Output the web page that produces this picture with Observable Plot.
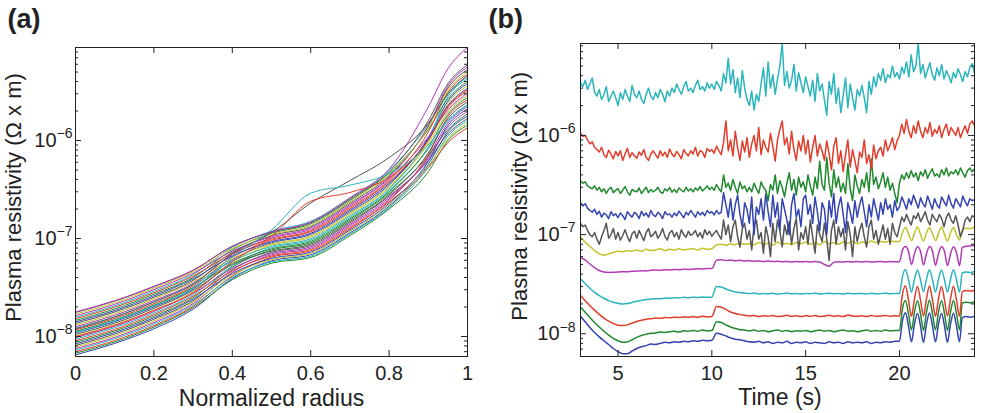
<!DOCTYPE html>
<html>
<head>
<meta charset="utf-8">
<script src="https://cdn.jsdelivr.net/npm/d3@7"></script>
<script src="https://cdn.jsdelivr.net/npm/@observablehq/plot@0.6"></script>
<style>
  html, body { margin: 0; padding: 0; background: #fff; }
  #fig { position: relative; width: 982px; height: 413px; overflow: hidden; background: #fff; }
  #fig > div { position: absolute; top: 0; }
  #panelA { left: 0; }
  #panelB { left: 480px; }
  svg { overflow: visible; }
</style>
</head>
<body>
<div id="fig"><div id="panelA"></div><div id="panelB"></div></div>
<script>
// ---------- (a) resistivity profiles vs normalized radius ----------
const radiusNodes = [0, 0.1, 0.2, 0.3, 0.4, 0.5, 0.6, 0.7, 0.8, 0.9, 0.95, 1];

const profiles = [
  [6.5e-9, 8.5e-9, 1.2e-8, 1.9e-8, 3.91e-8, 5.92e-8, 6.82e-8, 1.14e-7, 2.14e-7, 5.73e-7, 1.23e-6, 1.77e-6],
  [6.75e-9, 8.8e-9, 1.25e-8, 1.97e-8, 3.8e-8, 5.6e-8, 6.4e-8, 1.07e-7, 2.0e-7, 4.8e-7, 1.0e-6, 1.43e-6],
  [7.0e-9, 9.1e-9, 1.29e-8, 2.03e-8, 4.15e-8, 6.45e-8, 7.49e-8, 1.26e-7, 2.37e-7, 5.25e-7, 9.51e-7, 1.35e-6],
  [7.26e-9, 9.5e-9, 1.34e-8, 2.1e-8, 4.03e-8, 5.76e-8, 6.6e-8, 1.11e-7, 2.07e-7, 5.35e-7, 1.11e-6, 1.59e-6],
  [7.53e-9, 9.8e-9, 1.39e-8, 2.17e-8, 4.53e-8, 6.82e-8, 7.98e-8, 1.35e-7, 2.53e-7, 6.84e-7, 1.51e-6, 2.21e-6],
  [7.82e-9, 1.02e-8, 1.44e-8, 2.25e-8, 4.27e-8, 6.09e-8, 7.03e-8, 1.18e-7, 2.21e-7, 5.48e-7, 1.05e-6, 1.51e-6],
  [8.11e-9, 1.06e-8, 1.5e-8, 2.32e-8, 4.8e-8, 7.21e-8, 8.5e-8, 1.44e-7, 2.71e-7, 6.26e-7, 1.17e-6, 1.68e-6],
  [8.41e-9, 1.1e-8, 1.55e-8, 2.4e-8, 4.4e-8, 6.27e-8, 7.26e-8, 1.22e-7, 2.29e-7, 6.12e-7, 1.43e-6, 2.09e-6],
  [8.73e-9, 1.14e-8, 1.61e-8, 2.49e-8, 5.09e-8, 7.63e-8, 9.05e-8, 1.54e-7, 2.9e-7, 7.0e-7, 1.29e-6, 1.87e-6],
  [9.06e-9, 1.18e-8, 1.67e-8, 2.57e-8, 4.67e-8, 6.63e-8, 7.73e-8, 1.3e-7, 2.45e-7, 7.15e-7, 1.76e-6, 2.6e-6],
  [9.4e-9, 1.23e-8, 1.73e-8, 2.66e-8, 5.25e-8, 8.07e-8, 9.64e-8, 1.64e-7, 3.1e-7, 8.17e-7, 1.59e-6, 2.33e-6],
  [9.75e-9, 1.27e-8, 1.8e-8, 2.75e-8, 4.95e-8, 7.01e-8, 8.23e-8, 1.39e-7, 2.62e-7, 6.55e-7, 1.36e-6, 1.98e-6],
  [1.01e-8, 1.32e-8, 1.86e-8, 2.85e-8, 5.73e-8, 8.54e-8, 1.03e-7, 1.75e-7, 3.32e-7, 9.34e-7, 1.95e-6, 2.91e-6],
  [1.05e-8, 1.37e-8, 1.94e-8, 2.95e-8, 5.4e-8, 7.42e-8, 8.77e-8, 1.49e-7, 2.8e-7, 7.48e-7, 1.67e-6, 2.47e-6],
  [1.09e-8, 1.42e-8, 2.01e-8, 3.05e-8, 6.07e-8, 9.03e-8, 1.1e-7, 1.87e-7, 3.55e-7, 1.07e-6, 2.52e-6, 3.82e-6],
  [1.13e-8, 1.48e-8, 2.09e-8, 3.15e-8, 5.56e-8, 7.85e-8, 9.34e-8, 1.59e-7, 3.0e-7, 8.54e-7, 1.85e-6, 2.75e-6],
  [1.17e-8, 1.53e-8, 2.16e-8, 3.26e-8, 6.44e-8, 9.55e-8, 1.17e-7, 2.0e-7, 3.8e-7, 1.02e-6, 2.16e-6, 3.24e-6],
  [1.22e-8, 1.59e-8, 2.25e-8, 3.37e-8, 5.9e-8, 8.3e-8, 9.95e-8, 1.7e-7, 3.21e-7, 1.04e-6, 2.8e-6, 4.26e-6],
  [1.26e-8, 1.65e-8, 2.33e-8, 3.49e-8, 6.83e-8, 1.01e-7, 1.24e-7, 2.14e-7, 4.06e-7, 1.09e-6, 2.05e-6, 3.07e-6],
  [1.31e-8, 1.71e-8, 2.42e-8, 3.61e-8, 6.25e-8, 8.78e-8, 1.06e-7, 1.81e-7, 3.43e-7, 9.95e-7, 2.4e-6, 3.62e-6],
  [1.36e-8, 1.78e-8, 2.51e-8, 3.73e-8, 7.24e-8, 1.07e-7, 1.32e-7, 2.29e-7, 4.35e-7, 1.39e-6, 3.43e-6, 5.31e-6],
  [1.41e-8, 1.84e-8, 2.6e-8, 3.86e-8, 6.63e-8, 9.29e-8, 1.13e-7, 1.94e-7, 3.67e-7, 1.03e-6, 2.28e-6, 3.42e-6],
  [1.46e-8, 1.91e-8, 2.7e-8, 3.99e-8, 7.68e-8, 1.13e-7, 1.41e-7, 2.44e-7, 4.65e-7, 1.3e-6, 2.66e-6, 4.04e-6],
  [1.52e-8, 1.99e-8, 2.8e-8, 4.13e-8, 7.03e-8, 9.82e-8, 1.2e-7, 2.07e-7, 3.93e-7, 1.22e-6, 3.1e-6, 4.76e-6],
  [1.57e-8, 2.05e-8, 2.9e-8, 4.27e-8, 8.14e-8, 1.19e-7, 1.5e-7, 2.6e-7, 4.98e-7, 1.46e-6, 2.94e-6, 4.5e-6],
  [1.63e-8, 2.13e-8, 3.01e-8, 4.42e-8, 7.45e-8, 1.04e-7, 1.28e-7, 2.21e-7, 4.2e-7, 1.42e-6, 3.61e-6, 5.61e-6],
  [1.69e-8, 2.21e-8, 3.12e-8, 4.57e-8, 7.91e-8, 1.1e-7, 1.36e-7, 2.36e-7, 4.5e-7, 1.36e-6, 3.26e-6, 5.02e-6],
  [1.76e-8, 2.3e-8, 3.23e-8, 4.73e-8, 8.38e-8, 1.16e-7, 1.45e-7, 2.52e-7, 4.81e-7, 1.59e-6, 3.81e-6, 5.92e-6]
];

// profiles that leave the main bundle
const grayHigh   = [1.2e-8, 1.58e-8, 2.25e-8, 3.4e-8, 7.0e-8, 1.15e-7, 2.3e-7, 3.9e-7, 6.7e-7, 1.5e-6, 3.0e-6, 4.6e-6];
const cyanBump   = [1.1e-8, 1.45e-8, 2.05e-8, 3.1e-8, 6.5e-8, 1.22e-7, 2.9e-7, 3.5e-7, 4.6e-7, 9.0e-7, 1.6e-6, 2.3e-6];
const redBump    = [1.0e-8, 1.3e-8, 1.85e-8, 2.8e-8, 5.8e-8, 1.05e-7, 2.4e-7, 2.95e-7, 4.2e-7, 1.0e-6, 2.2e-6, 3.3e-6];
const magentaTop = [1.78e-8, 2.32e-8, 3.25e-8, 4.75e-8, 8.3e-8, 1.17e-7, 1.47e-7, 2.6e-7, 5.1e-7, 2.2e-6, 5.4e-6, 8.9e-6];

// ---------- (b) resistivity traces vs time ----------
// smooth traces: 0.25 s steps, finer steps through the 20-23 s modulation
const timeGrid = [
  3,3.25,3.5,3.75,4,4.25,4.5,4.75,5,5.25,5.5,5.75,
  6,6.25,6.5,6.75,7,7.25,7.5,7.75,8,8.25,8.5,8.75,
  9,9.25,9.5,9.75,10,10.25,10.5,10.75,11,11.25,11.5,11.75,
  12,12.25,12.5,12.75,13,13.25,13.5,13.75,14,14.25,14.5,14.75,
  15,15.25,15.5,15.75,16,16.25,16.5,16.75,17,17.25,17.5,17.75,
  18,18.25,18.5,18.75,19,19.25,19.5,19.75,
  20,20.16,20.32,20.48,20.64,20.8,20.96,21.12,21.28,21.44,21.6,21.76,21.92,22.08,22.24,22.4,22.56,22.72,22.88,23.04,23.2,
  23.35,23.55,23.8,24
];
// fluctuating traces: 0.125 s steps
const timeFine = [
  3,3.125,3.25,3.375,3.5,3.625,3.75,3.875,
  4,4.125,4.25,4.375,4.5,4.625,4.75,4.875,
  5,5.125,5.25,5.375,5.5,5.625,5.75,5.875,
  6,6.125,6.25,6.375,6.5,6.625,6.75,6.875,
  7,7.125,7.25,7.375,7.5,7.625,7.75,7.875,
  8,8.125,8.25,8.375,8.5,8.625,8.75,8.875,
  9,9.125,9.25,9.375,9.5,9.625,9.75,9.875,
  10,10.125,10.25,10.375,10.5,10.625,10.75,10.875,
  11,11.125,11.25,11.375,11.5,11.625,11.75,11.875,
  12,12.125,12.25,12.375,12.5,12.625,12.75,12.875,
  13,13.125,13.25,13.375,13.5,13.625,13.75,13.875,
  14,14.125,14.25,14.375,14.5,14.625,14.75,14.875,
  15,15.125,15.25,15.375,15.5,15.625,15.75,15.875,
  16,16.125,16.25,16.375,16.5,16.625,16.75,16.875,
  17,17.125,17.25,17.375,17.5,17.625,17.75,17.875,
  18,18.125,18.25,18.375,18.5,18.625,18.75,18.875,
  19,19.125,19.25,19.375,19.5,19.625,19.75,19.875,
  20,20.125,20.25,20.375,20.5,20.625,20.75,20.875,
  21,21.125,21.25,21.375,21.5,21.625,21.75,21.875,
  22,22.125,22.25,22.375,22.5,22.625,22.75,22.875,
  23,23.125,23.25,23.375,23.5,23.625,23.75,23.875,
  24
];

const rhoBlueLow = [
  15.0e-9,13.2e-9,11.6e-9,10.3e-9,9.3e-9,8.5e-9,7.8e-9,7.1e-9,6.6e-9,6.3e-9,6.3e-9,6.7e-9,
  7.1e-9,7.4e-9,7.6e-9,7.9e-9,7.8e-9,8.0e-9,8.2e-9,8.1e-9,8.3e-9,8.2e-9,8.4e-9,8.3e-9,
  8.5e-9,8.4e-9,8.6e-9,8.5e-9,8.6e-9,10.1e-9,9.9e-9,9.5e-9,9.1e-9,8.8e-9,8.7e-9,8.5e-9,
  8.3e-9,8.2e-9,8.4e-9,8.1e-9,8.3e-9,8.0e-9,8.2e-9,8.1e-9,8.4e-9,8.0e-9,8.2e-9,8.1e-9,
  8.3e-9,8.0e-9,8.2e-9,8.1e-9,8.0e-9,8.3e-9,8.1e-9,8.2e-9,8.0e-9,8.3e-9,8.1e-9,8.2e-9,
  8.1e-9,8.3e-9,8.0e-9,8.2e-9,8.1e-9,8.3e-9,8.2e-9,8.4e-9,
  8.4e-9,13.5e-9,16.3e-9,12.0e-9,8.3e-9,12.5e-9,16.0e-9,12.0e-9,8.2e-9,12.5e-9,16.2e-9,12.0e-9,8.3e-9,12.5e-9,16.0e-9,12.0e-9,8.2e-9,12.5e-9,16.1e-9,12.0e-9,8.3e-9,
  14.5e-9,14.9e-9,14.7e-9,15.0e-9
];
const rhoGreenLow = [
  18.6e-9,16.5e-9,14.6e-9,13.0e-9,11.7e-9,10.6e-9,9.7e-9,9.0e-9,8.5e-9,8.2e-9,8.3e-9,8.7e-9,
  9.2e-9,9.6e-9,9.9e-9,10.1e-9,10.2e-9,10.4e-9,10.3e-9,10.5e-9,10.6e-9,10.4e-9,10.7e-9,10.6e-9,
  10.8e-9,10.6e-9,10.9e-9,10.7e-9,10.8e-9,13.2e-9,13.0e-9,12.3e-9,11.7e-9,11.3e-9,11.0e-9,10.9e-9,
  10.7e-9,10.9e-9,10.6e-9,10.8e-9,10.5e-9,10.7e-9,10.9e-9,10.6e-9,10.8e-9,10.5e-9,10.7e-9,10.6e-9,
  10.8e-9,10.5e-9,10.7e-9,10.9e-9,10.6e-9,10.8e-9,10.5e-9,10.7e-9,10.9e-9,10.6e-9,10.7e-9,10.5e-9,
  10.7e-9,10.9e-9,10.6e-9,10.8e-9,10.6e-9,10.9e-9,10.7e-9,10.8e-9,
  10.8e-9,18.0e-9,21.7e-9,16.0e-9,10.9e-9,16.5e-9,21.5e-9,16.0e-9,10.8e-9,16.5e-9,21.8e-9,16.0e-9,10.9e-9,16.5e-9,21.5e-9,16.0e-9,10.8e-9,16.5e-9,21.6e-9,16.0e-9,10.9e-9,
  20.5e-9,20.8e-9,20.6e-9,21.0e-9
];
const rhoRedLow = [
  24.3e-9,21.5e-9,19.2e-9,17.3e-9,15.7e-9,14.4e-9,13.4e-9,12.7e-9,12.2e-9,12.1e-9,12.3e-9,12.8e-9,
  13.3e-9,13.7e-9,14.0e-9,14.2e-9,14.4e-9,14.3e-9,14.6e-9,14.5e-9,14.7e-9,14.6e-9,14.8e-9,14.7e-9,
  14.9e-9,14.7e-9,15.0e-9,14.8e-9,14.9e-9,18.8e-9,18.5e-9,17.6e-9,16.6e-9,16.0e-9,15.6e-9,15.4e-9,
  15.1e-9,15.3e-9,14.9e-9,15.2e-9,15.0e-9,15.3e-9,14.9e-9,15.1e-9,15.4e-9,15.0e-9,15.2e-9,14.9e-9,
  15.2e-9,15.0e-9,15.3e-9,14.9e-9,15.1e-9,15.4e-9,15.0e-9,15.2e-9,14.9e-9,15.5e-9,15.1e-9,15.0e-9,
  15.2e-9,14.9e-9,15.3e-9,15.0e-9,15.1e-9,15.3e-9,15.0e-9,15.2e-9,
  15.1e-9,25.0e-9,30.5e-9,22.0e-9,15.0e-9,22.5e-9,30.0e-9,22.0e-9,15.1e-9,22.5e-9,30.3e-9,22.0e-9,15.0e-9,22.5e-9,30.0e-9,22.0e-9,15.1e-9,22.5e-9,30.2e-9,22.0e-9,15.0e-9,
  26.5e-9,27.3e-9,27.0e-9,27.5e-9
];
const rhoCyanLow = [
  35.9e-9,32.0e-9,28.8e-9,26.3e-9,24.3e-9,22.8e-9,21.6e-9,20.8e-9,20.3e-9,20.0e-9,20.2e-9,20.7e-9,
  21.3e-9,21.8e-9,22.1e-9,22.4e-9,22.6e-9,22.5e-9,22.9e-9,22.8e-9,23.1e-9,23.0e-9,23.3e-9,23.1e-9,
  23.4e-9,23.2e-9,23.5e-9,23.3e-9,23.4e-9,30.0e-9,29.6e-9,28.3e-9,27.1e-9,26.4e-9,26.0e-9,25.7e-9,
  25.4e-9,25.7e-9,25.2e-9,25.5e-9,25.3e-9,25.6e-9,25.1e-9,25.4e-9,25.7e-9,25.3e-9,25.5e-9,25.2e-9,
  25.5e-9,25.3e-9,25.8e-9,25.2e-9,25.4e-9,25.6e-9,25.3e-9,25.5e-9,25.1e-9,25.6e-9,25.3e-9,25.4e-9,
  25.5e-9,25.2e-9,25.6e-9,25.3e-9,25.4e-9,25.7e-9,25.3e-9,25.5e-9,
  25.4e-9,38.0e-9,44.5e-9,35.0e-9,26.3e-9,35.5e-9,44.0e-9,35.0e-9,26.5e-9,35.5e-9,44.3e-9,35.0e-9,26.3e-9,35.5e-9,44.0e-9,35.0e-9,26.4e-9,35.5e-9,44.2e-9,35.0e-9,26.3e-9,
  41.0e-9,42.0e-9,41.5e-9,42.5e-9
];
const rhoMagenta = [
  59.0e-9,55.5e-9,50.5e-9,46.5e-9,43.5e-9,42.0e-9,41.6e-9,41.8e-9,41.9e-9,42.3e-9,42.1e-9,42.6e-9,
  42.9e-9,43.2e-9,43.0e-9,43.6e-9,43.9e-9,43.7e-9,44.2e-9,44.0e-9,44.5e-9,44.3e-9,44.8e-9,44.6e-9,
  45.0e-9,45.3e-9,45.1e-9,45.6e-9,45.4e-9,55.0e-9,55.8e-9,54.8e-9,55.3e-9,54.5e-9,55.0e-9,54.2e-9,
  54.6e-9,53.9e-9,54.3e-9,53.6e-9,54.1e-9,53.4e-9,53.9e-9,53.2e-9,53.7e-9,53.0e-9,53.5e-9,53.1e-9,
  53.6e-9,52.9e-9,53.4e-9,53.0e-9,50.0e-9,48.0e-9,52.5e-9,53.3e-9,52.8e-9,53.5e-9,52.9e-9,53.4e-9,
  53.0e-9,53.6e-9,52.8e-9,53.3e-9,53.5e-9,53.0e-9,53.4e-9,53.2e-9,
  53.2e-9,70.0e-9,76.0e-9,68.0e-9,50.0e-9,64.0e-9,75.5e-9,68.0e-9,49.5e-9,64.0e-9,76.0e-9,68.0e-9,49.0e-9,64.0e-9,75.5e-9,68.0e-9,48.5e-9,64.0e-9,75.5e-9,66.0e-9,48.5e-9,
  74.0e-9,76.5e-9,77.0e-9,78.0e-9
];
const rhoYellow = [
  94e-9,84e-9,76e-9,69e-9,64e-9,62e-9,64e-9,66e-9,68e-9,67e-9,69e-9,68e-9,
  70e-9,68e-9,71e-9,69e-9,70e-9,72e-9,69e-9,71e-9,70e-9,72e-9,70e-9,71e-9,
  72e-9,70e-9,73e-9,71e-9,72e-9,79e-9,80e-9,78e-9,81e-9,79e-9,82e-9,80e-9,
  81e-9,79e-9,83e-9,80e-9,82e-9,78e-9,84e-9,80e-9,82e-9,79e-9,83e-9,81e-9,
  84e-9,80e-9,83e-9,79e-9,85e-9,81e-9,83e-9,80e-9,84e-9,82e-9,85e-9,81e-9,
  84e-9,82e-9,86e-9,83e-9,85e-9,84e-9,86e-9,85e-9,
  85e-9,105e-9,118e-9,102e-9,87e-9,103e-9,119e-9,101e-9,86e-9,104e-9,118e-9,102e-9,87e-9,103e-9,119e-9,101e-9,86e-9,104e-9,118e-9,100e-9,88e-9,
  112e-9,116e-9,115e-9,120e-9
];

const rhoGray = [
  130e-9,120e-9,125e-9,110e-9,100e-9,95e-9,105e-9,90e-9,
  80e-9,95e-9,110e-9,130e-9,92e-9,100e-9,115e-9,90e-9,
  105e-9,88e-9,98e-9,112e-9,95e-9,85e-9,102e-9,108e-9,
  92e-9,110e-9,98e-9,87e-9,105e-9,115e-9,95e-9,100e-9,
  108e-9,92e-9,100e-9,115e-9,96e-9,88e-9,104e-9,110e-9,
  95e-9,105e-9,90e-9,112e-9,100e-9,94e-9,108e-9,98e-9,
  102e-9,110e-9,95e-9,105e-9,92e-9,112e-9,100e-9,108e-9,
  96e-9,104e-9,110e-9,98e-9,90e-9,140e-9,100e-9,125e-9,
  85e-9,120e-9,140e-9,95e-9,75e-9,115e-9,130e-9,90e-9,
  110e-9,70e-9,125e-9,140e-9,90e-9,105e-9,65e-9,120e-9,
  95e-9,60e-9,130e-9,85e-9,140e-9,110e-9,75e-9,125e-9,
  100e-9,135e-9,80e-9,115e-9,145e-9,70e-9,105e-9,90e-9,
  120e-9,80e-9,140e-9,95e-9,65e-9,125e-9,100e-9,85e-9,
  130e-9,90e-9,55e-9,110e-9,140e-9,80e-9,120e-9,95e-9,
  115e-9,70e-9,135e-9,100e-9,60e-9,120e-9,85e-9,110e-9,
  130e-9,95e-9,75e-9,120e-9,140e-9,90e-9,110e-9,80e-9,
  100e-9,125e-9,90e-9,115e-9,80e-9,130e-9,105e-9,95e-9,
  120e-9,150e-9,135e-9,160e-9,140e-9,125e-9,155e-9,145e-9,
  165e-9,135e-9,150e-9,170e-9,140e-9,125e-9,160e-9,145e-9,
  135e-9,160e-9,145e-9,120e-9,150e-9,165e-9,140e-9,130e-9,
  155e-9,125e-9,95e-9,110e-9,140e-9,150e-9,135e-9,155e-9,
  150e-9
];
const rhoBlueHigh = [
  210e-9,195e-9,205e-9,185e-9,175e-9,168e-9,180e-9,160e-9,
  172e-9,150e-9,165e-9,158e-9,145e-9,170e-9,155e-9,162e-9,
  148e-9,165e-9,155e-9,142e-9,170e-9,158e-9,150e-9,168e-9,
  160e-9,145e-9,172e-9,155e-9,165e-9,150e-9,175e-9,158e-9,
  152e-9,168e-9,160e-9,145e-9,170e-9,158e-9,162e-9,150e-9,
  165e-9,155e-9,172e-9,160e-9,148e-9,168e-9,158e-9,175e-9,
  162e-9,150e-9,170e-9,158e-9,168e-9,155e-9,175e-9,165e-9,
  170e-9,158e-9,175e-9,162e-9,168e-9,265e-9,200e-9,150e-9,
  230e-9,140e-9,200e-9,250e-9,160e-9,120e-9,210e-9,180e-9,
  130e-9,240e-9,100e-9,190e-9,160e-9,230e-9,140e-9,260e-9,
  170e-9,120e-9,250e-9,150e-9,210e-9,110e-9,230e-9,180e-9,
  140e-9,100e-9,200e-9,260e-9,150e-9,180e-9,120e-9,230e-9,
  250e-9,160e-9,200e-9,130e-9,240e-9,170e-9,110e-9,210e-9,
  180e-9,100e-9,220e-9,150e-9,260e-9,130e-9,190e-9,240e-9,
  160e-9,105e-9,210e-9,170e-9,130e-9,220e-9,150e-9,200e-9,
  240e-9,170e-9,120e-9,200e-9,150e-9,230e-9,180e-9,140e-9,
  210e-9,160e-9,230e-9,180e-9,200e-9,150e-9,220e-9,175e-9,
  190e-9,240e-9,210e-9,180e-9,230e-9,200e-9,250e-9,215e-9,
  185e-9,235e-9,205e-9,190e-9,245e-9,210e-9,180e-9,230e-9,
  200e-9,185e-9,240e-9,215e-9,195e-9,250e-9,205e-9,185e-9,
  230e-9,210e-9,190e-9,245e-9,215e-9,195e-9,230e-9,220e-9,
  225e-9
];
const rhoGreenHigh = [
  350e-9,330e-9,340e-9,310e-9,300e-9,290e-9,310e-9,280e-9,
  300e-9,270e-9,290e-9,260e-9,285e-9,300e-9,265e-9,280e-9,
  290e-9,260e-9,280e-9,305e-9,270e-9,250e-9,285e-9,275e-9,
  270e-9,295e-9,260e-9,280e-9,300e-9,265e-9,285e-9,270e-9,
  280e-9,300e-9,270e-9,260e-9,290e-9,275e-9,300e-9,268e-9,
  285e-9,265e-9,295e-9,280e-9,270e-9,300e-9,275e-9,290e-9,
  270e-9,295e-9,280e-9,305e-9,275e-9,290e-9,310e-9,285e-9,
  300e-9,280e-9,320e-9,290e-9,270e-9,400e-9,300e-9,330e-9,
  280e-9,360e-9,300e-9,260e-9,340e-9,290e-9,310e-9,270e-9,
  300e-9,270e-9,330e-9,290e-9,260e-9,340e-9,300e-9,280e-9,
  220e-9,320e-9,280e-9,400e-9,260e-9,350e-9,300e-9,240e-9,
  330e-9,420e-9,280e-9,360e-9,250e-9,380e-9,300e-9,340e-9,
  270e-9,400e-9,310e-9,250e-9,380e-9,290e-9,550e-9,320e-9,
  280e-9,600e-9,330e-9,240e-9,450e-9,300e-9,380e-9,270e-9,
  330e-9,260e-9,520e-9,290e-9,220e-9,400e-9,310e-9,260e-9,
  360e-9,300e-9,420e-9,270e-9,580e-9,320e-9,380e-9,290e-9,
  340e-9,420e-9,300e-9,380e-9,280e-9,330e-9,260e-9,210e-9,
  330e-9,400e-9,360e-9,420e-9,370e-9,440e-9,380e-9,420e-9,
  350e-9,430e-9,390e-9,450e-9,370e-9,420e-9,460e-9,390e-9,
  410e-9,380e-9,450e-9,400e-9,470e-9,390e-9,430e-9,410e-9,
  450e-9,400e-9,470e-9,420e-9,380e-9,440e-9,470e-9,430e-9,
  460e-9
];
const rhoRedHigh = [
  1050e-9,980e-9,1000e-9,900e-9,820e-9,860e-9,760e-9,720e-9,
  680e-9,760e-9,640e-9,600e-9,710e-9,650e-9,580e-9,690e-9,
  620e-9,700e-9,560e-9,650e-9,740e-9,600e-9,670e-9,620e-9,
  590e-9,680e-9,630e-9,720e-9,600e-9,560e-9,650e-9,700e-9,
  640e-9,590e-9,700e-9,620e-9,680e-9,600e-9,730e-9,650e-9,
  610e-9,690e-9,640e-9,580e-9,720e-9,660e-9,620e-9,700e-9,
  650e-9,760e-9,620e-9,700e-9,680e-9,600e-9,740e-9,690e-9,
  720e-9,660e-9,780e-9,700e-9,640e-9,850e-9,1400e-9,700e-9,
  900e-9,620e-9,1100e-9,750e-9,560e-9,880e-9,680e-9,950e-9,
  600e-9,820e-9,1000e-9,700e-9,1200e-9,640e-9,900e-9,760e-9,
  680e-9,1050e-9,780e-9,550e-9,900e-9,1150e-9,1400e-9,800e-9,
  950e-9,650e-9,1100e-9,720e-9,560e-9,880e-9,700e-9,1000e-9,
  650e-9,900e-9,540e-9,760e-9,1000e-9,620e-9,820e-9,700e-9,
  560e-9,880e-9,650e-9,450e-9,780e-9,950e-9,520e-9,700e-9,
  430e-9,640e-9,900e-9,480e-9,720e-9,560e-9,420e-9,680e-9,
  600e-9,900e-9,520e-9,640e-9,460e-9,800e-9,580e-9,700e-9,
  760e-9,620e-9,900e-9,700e-9,800e-9,950e-9,720e-9,880e-9,
  1000e-9,1300e-9,1050e-9,1450e-9,1100e-9,950e-9,1250e-9,1050e-9,
  1400e-9,1100e-9,950e-9,1200e-9,1050e-9,1350e-9,980e-9,1150e-9,
  1050e-9,1250e-9,950e-9,1150e-9,1300e-9,1000e-9,1200e-9,1100e-9,
  1000e-9,1200e-9,950e-9,1100e-9,1250e-9,1050e-9,1300e-9,1400e-9,
  1250e-9
];
const rhoCyanHigh = [
  3400e-9,3100e-9,3600e-9,2900e-9,3300e-9,3800e-9,2700e-9,2500e-9,
  2900e-9,2300e-9,2600e-9,3100e-9,2200e-9,2500e-9,2800e-9,2400e-9,
  2000e-9,2700e-9,2300e-9,2900e-9,2500e-9,2200e-9,3200e-9,2600e-9,
  2400e-9,2800e-9,2300e-9,2100e-9,2600e-9,3000e-9,2500e-9,2300e-9,
  2700e-9,2400e-9,2900e-9,2600e-9,2200e-9,2800e-9,2500e-9,3000e-9,
  2700e-9,3300e-9,2900e-9,2600e-9,3100e-9,3500e-9,2800e-9,3000e-9,
  2700e-9,3200e-9,3600e-9,2900e-9,3100e-9,2800e-9,3400e-9,3000e-9,
  3300e-9,2900e-9,3500e-9,3200e-9,2800e-9,4200e-9,3400e-9,6000e-9,
  3300e-9,4600e-9,2700e-9,3800e-9,2400e-9,4500e-9,3000e-9,2300e-9,
  2000e-9,2800e-9,1800e-9,2600e-9,2200e-9,3300e-9,4800e-9,2500e-9,
  5500e-9,3000e-9,4100e-9,2600e-9,3700e-9,5000e-9,8500e-9,3200e-9,
  4400e-9,3000e-9,3600e-9,5200e-9,2800e-9,4300e-9,3400e-9,2700e-9,
  3900e-9,3100e-9,2500e-9,3600e-9,2200e-9,4200e-9,2800e-9,3300e-9,
  2300e-9,1600e-9,3500e-9,2600e-9,4200e-9,2100e-9,3000e-9,1700e-9,
  2500e-9,3800e-9,1900e-9,3300e-9,2400e-9,1800e-9,2900e-9,2500e-9,
  3200e-9,2400e-9,1700e-9,3500e-9,2600e-9,3900e-9,3100e-9,4200e-9,
  3600e-9,4700e-9,3400e-9,4100e-9,3800e-9,5000e-9,3900e-9,4300e-9,
  3700e-9,4900e-9,4200e-9,5500e-9,3900e-9,6500e-9,4400e-9,5000e-9,
  8500e-9,4200e-9,5200e-9,3800e-9,4600e-9,5400e-9,4100e-9,3600e-9,
  4800e-9,4000e-9,5200e-9,3700e-9,4500e-9,4000e-9,3400e-9,4300e-9,
  3800e-9,4700e-9,4100e-9,3500e-9,4400e-9,3900e-9,4800e-9,5300e-9,
  4200e-9
];

// ---------- axis ticks ----------
const radiusTicks = [0, 0.2, 0.4, 0.6, 0.8, 1];
const timeTicks = [5, 10, 15, 20];
const decadeTicks = [1e-8, 1e-7, 1e-6];
const decadeLabels = ["\u22128", "\u22127", "\u22126"];
const minorTicks = [7e-9, 8e-9, 9e-9,
  2e-8, 3e-8, 4e-8, 5e-8, 6e-8, 7e-8, 8e-8, 9e-8,
  2e-7, 3e-7, 4e-7, 5e-7, 6e-7, 7e-7, 8e-7, 9e-7,
  2e-6, 3e-6, 4e-6, 5e-6, 6e-6, 7e-6, 8e-6];

// ---------- styling ----------
const lineColors = {
  blue: "#3444b0", green: "#20892e", red: "#e03d2c", cyan: "#2ab5bd",
  magenta: "#b33ab5", yellow: "#c2c32a", gray: "#555555"
};
const colorCycle = ["blue", "green", "red", "cyan", "magenta", "yellow", "gray"];
const ink = "#222";
const font = "'Liberation Sans', Arial, Helvetica, sans-serif";

function boxMarks(innerW, innerH, xTicks, yMinor) {
  return [
    Plot.frame({stroke: ink, strokeWidth: 1}),
    Plot.tickX(xTicks, {x: d => d, insetTop: innerH - 6, stroke: ink}),
    Plot.tickX(xTicks, {x: d => d, insetBottom: innerH - 6, stroke: ink}),
    Plot.tickY(decadeTicks, {y: d => d, insetRight: innerW - 6, stroke: ink}),
    Plot.tickY(decadeTicks, {y: d => d, insetLeft: innerW - 6, stroke: ink}),
    Plot.tickY(yMinor, {y: d => d, insetRight: innerW - 3, stroke: ink}),
    Plot.tickY(yMinor, {y: d => d, insetLeft: innerW - 3, stroke: ink})
  ];
}

function superscriptDecades(svg) {
  d3.select(svg).selectAll('g[aria-label="y-axis tick label"] text').each(function () {
    const exponent = this.textContent;
    const t = d3.select(this).text("10");
    t.append("tspan").attr("dy", "-0.62em").attr("font-size", "0.7em").text(exponent);
  });
}

// ---------- panel (a) ----------
const rowsA = [];
profiles.forEach((vals, k) => radiusNodes.forEach((r, j) =>
  rowsA.push({r, rho: vals[j], k, color: lineColors[colorCycle[k % 7]]})));
[[grayHigh, "gray"], [redBump, "red"], [cyanBump, "cyan"], [magentaTop, "magenta"]].forEach(([vals, c], k) =>
  radiusNodes.forEach((r, j) => rowsA.push({r, rho: vals[j], k: 100 + k, color: lineColors[c]})));

const A = {w: 490, h: 413, ml: 75, mr: 23, mt: 47, mb: 57};
const innerWA = A.w - A.ml - A.mr, innerHA = A.h - A.mt - A.mb;

const plotA = Plot.plot({
  width: A.w, height: A.h,
  marginLeft: A.ml, marginRight: A.mr, marginTop: A.mt, marginBottom: A.mb,
  style: {fontFamily: font, fontSize: "20px", color: ink, background: "white"},
  x: {domain: [0, 1], axis: null, label: null},
  y: {type: "log", domain: [6.25e-9, 8.9e-6], axis: null, label: null},
  marks: [
    Plot.line(rowsA, {x: "r", y: "rho", z: "k", stroke: "color", strokeWidth: 1, curve: "monotone-x", clip: true}),
    ...boxMarks(innerWA, innerHA, radiusTicks, minorTicks.filter(v => v >= 6.25e-9 && v <= 8.9e-6)),
    Plot.axisX({ticks: radiusTicks, tickSize: 0, tickPadding: 9, tickFormat: d => String(d), label: null}),
    Plot.axisY({ticks: decadeTicks, tickSize: 0, tickPadding: 3, tickFormat: d => decadeLabels[decadeTicks.indexOf(d)], label: null}),
    Plot.text(["Normalized radius"], {text: d => d, frameAnchor: "bottom", dy: 42, textAnchor: "middle", lineAnchor: "middle", fontSize: 23, fill: ink}),
    Plot.text(["Plasma resistivity (\u03A9 x m)"], {text: d => d, frameAnchor: "left", rotate: -90, dx: -61.5, dy: -4.5, textAnchor: "middle", lineAnchor: "middle", fontSize: 22, fill: ink}),
    Plot.text(["(a)"], {text: d => d, frameAnchor: "top-left", dx: -68, dy: -28.6, textAnchor: "start", lineAnchor: "middle", fontSize: 27, fontWeight: "bold", fill: ink})
  ]
});
superscriptDecades(plotA);
document.getElementById("panelA").append(plotA);

// ---------- panel (b) ----------
const smoothTraces = [
  [rhoBlueLow, "blue"], [rhoGreenLow, "green"], [rhoRedLow, "red"], [rhoCyanLow, "cyan"],
  [rhoMagenta, "magenta"], [rhoYellow, "yellow"]
];
const noisyTraces = [
  [rhoGray, "gray"], [rhoBlueHigh, "blue"], [rhoGreenHigh, "green"], [rhoRedHigh, "red"], [rhoCyanHigh, "cyan"]
];
const smoothRows = [];
smoothTraces.forEach(([vals, c], k) => timeGrid.forEach((t, j) =>
  smoothRows.push({t, rho: vals[j], k, color: lineColors[c]})));
const noisyRows = [];
noisyTraces.forEach(([vals, c], k) => timeFine.forEach((t, j) =>
  noisyRows.push({t, rho: vals[j], k, color: lineColors[c]})));

const B = {w: 502, h: 413, ml: 100, mr: 8, mt: 43, mb: 57};
const innerWB = B.w - B.ml - B.mr, innerHB = B.h - B.mt - B.mb;

const plotB = Plot.plot({
  width: B.w, height: B.h,
  marginLeft: B.ml, marginRight: B.mr, marginTop: B.mt, marginBottom: B.mb,
  style: {fontFamily: font, fontSize: "20px", color: ink, background: "white"},
  x: {domain: [3, 24], axis: null, label: null},
  y: {type: "log", domain: [5.9e-9, 8.45e-6], axis: null, label: null},
  marks: [
    Plot.line(smoothRows, {x: "t", y: "rho", z: "k", stroke: "color", strokeWidth: 1.5, curve: "monotone-x", clip: true}),
    Plot.line(noisyRows, {x: "t", y: "rho", z: "k", stroke: "color", strokeWidth: 1.5, strokeLinejoin: "round", curve: "linear", clip: true}),
    ...boxMarks(innerWB, innerHB, timeTicks, minorTicks.filter(v => v >= 5.9e-9 && v <= 8.45e-6)),
    Plot.axisX({ticks: timeTicks, tickSize: 0, tickPadding: 9, tickFormat: d => String(d), label: null}),
    Plot.axisY({ticks: decadeTicks, tickSize: 0, tickPadding: 5, tickFormat: d => decadeLabels[decadeTicks.indexOf(d)], label: null}),
    Plot.text(["Time (s)"], {text: d => d, frameAnchor: "bottom", dx: 2.5, dy: 41, textAnchor: "middle", lineAnchor: "middle", fontSize: 23, fill: ink}),
    Plot.text(["Plasma resistivity (\u03A9 x m)"], {text: d => d, frameAnchor: "left", rotate: -90, dx: -60.5, dy: -3.7, textAnchor: "middle", lineAnchor: "middle", fontSize: 22, fill: ink}),
    Plot.text(["(b)"], {text: d => d, frameAnchor: "top-left", dx: -92, dy: -24.6, textAnchor: "start", lineAnchor: "middle", fontSize: 27, fontWeight: "bold", fill: ink})
  ]
});
superscriptDecades(plotB);
document.getElementById("panelB").append(plotB);
</script>
</body>
</html>
